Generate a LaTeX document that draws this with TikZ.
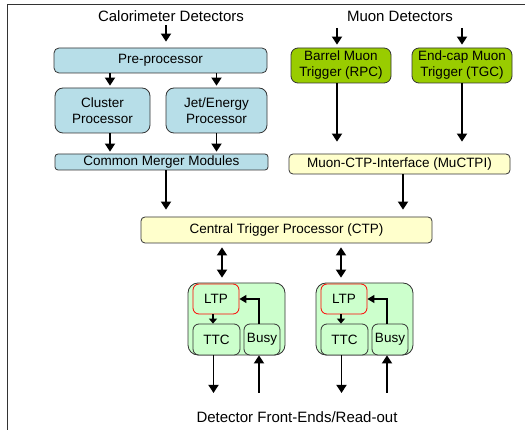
\documentclass[tikz,border=0pt]{standalone}
\usepackage{fontspec}
\setmainfont{Liberation Sans}
\usepackage{xcolor}
\usepackage{tikz}
\usetikzlibrary{arrows.meta, calc}
\definecolor{calofill}{HTML}{B7DEE8}
\definecolor{muonfill}{HTML}{99CC00}
\definecolor{ctpfill}{HTML}{FFFFCC}
\definecolor{ltpfill}{HTML}{CCFFCC}
\definecolor{ltpred}{HTML}{FF0000}
\definecolor{edgegray}{HTML}{333333}

\tikzset{
    headfont/.style={font=\fontsize{15}{18}\selectfont},
    trigbox/.style={draw=edgegray, line width=0.8pt, inner sep=0pt, align=center, font=\fontsize{13.5}{16}\selectfont},
    calobox/.style={trigbox, fill=calofill},
    muonbox/.style={trigbox, fill=muonfill, rounded corners=7pt},
    ctpbox/.style={trigbox, fill=ctpfill, rounded corners=4pt},
    groupbox/.style={trigbox, fill=ltpfill, rounded corners=10pt},
    ltpbox/.style={trigbox, fill=ltpfill, draw=ltpred, rounded corners=6pt},
    subbox/.style={trigbox, fill=ltpfill, rounded corners=6pt},
    flow/.style={line width=1.8pt, -{Triangle[length=8pt,width=10pt]}},
    twoway/.style={line width=1.8pt, {Triangle[length=8pt,width=10pt]}-{Triangle[length=8pt,width=10pt]}},
    link/.style={line width=1.2pt, -{Triangle[length=7pt,width=8pt]}},
}

\begin{document}
\begin{tikzpicture}[x=1pt, y=-1pt]
    \useasboundingbox (0,0) rectangle (525,430);

    % Frame
    \draw[edgegray, line width=0.8pt] (525,4) -- (7,4) -- (7,430);

    % Labels
    \node[headfont] (calo) at (171,16) {Calorimeter Detectors};
    \node[headfont] (muon) at (400,16) {Muon Detectors};
    \node[headfont] (fe) at (297,417) {Detector Front-Ends/Read-out};

    % Calorimeter trigger
    \node[calobox, rounded corners=5pt, minimum width=213pt, minimum height=25pt] (pre) at (160.5,60.5) {Pre-processor};
    \node[calobox, rounded corners=8pt, minimum width=95pt, minimum height=45pt] (cluster) at (102.5,110.5) {Cluster\\Processor};
    \node[calobox, rounded corners=8pt, minimum width=101pt, minimum height=45pt] (jet) at (216.5,110.5) {Jet/Energy\\Processor};
    \node[calobox, rounded corners=3pt, minimum width=213pt, minimum height=16pt] (cmm) at (161.5,162) {Common Merger Modules};

    % Muon trigger
    \node[muonbox, minimum width=100pt, minimum height=35pt] (barrel) at (341,65.5) {Barrel Muon\\Trigger (RPC)};
    \node[muonbox, minimum width=100pt, minimum height=35pt] (endcap) at (462,65.5) {End-cap Muon\\Trigger (TGC)};
    \node[ctpbox, minimum width=221pt, minimum height=20pt] (muctpi) at (399.5,164) {Muon-CTP-Interface (MuCTPI)};

    % CTP
    \node[ctpbox, minimum width=291pt, minimum height=26pt] (ctp) at (286.5,230) {Central Trigger Processor (CTP)};

    % Arrows into the CTP
    \draw[flow, shorten >=6pt] ($(calo.south)+(-5,0)$) -- ($(calo.south |- pre.north)+(-5,0)$);
    \draw[flow, shorten >=2pt] ($(pre.south -| cluster.north)+(7.5,0)$) -- ($(cluster.north)+(7.5,0)$);
    \draw[flow, shorten >=2pt] (pre.south -| jet.north) -- (jet.north);
    \draw[flow, shorten >=2pt] ($(cluster.south)+(7.5,0)$) -- ($(cluster.south |- cmm.north)+(7.5,0)$);
    \draw[flow, shorten >=2pt] (jet.south) -- (jet.south |- cmm.north);
    \draw[flow, shorten >=7pt] ($(cmm.south)+(4.5,0)$) -- ($(cmm.south |- ctp.north)+(4.5,0)$);
    \draw[flow, shorten <=3pt, shorten >=3pt] ($(muon.south -| barrel.north)+(-4,0)$) -- ($(barrel.north)+(-4,0)$);
    \draw[flow, shorten <=3pt, shorten >=3pt] (muon.south -| endcap.north) -- (endcap.north);
    \draw[flow, shorten >=12pt] ($(barrel.south)+(-4,0)$) -- ($(barrel.south |- muctpi.north)+(-4,0)$);
    \draw[flow, shorten >=12pt] (endcap.south) -- (endcap.south |- muctpi.north);
    \draw[flow, shorten >=7pt] ($(muctpi.south)+(3.5,0)$) -- ($(muctpi.south |- ctp.north)+(3.5,0)$);

    % LTP groups
    \foreach \g/\dx/\ax in {l/0/6, r/128/-3}{
        \node[groupbox, minimum width=97pt, minimum height=72pt] (grp\g) at (236.5+\dx,319) {};
        \node[ltpbox, minimum width=46pt, minimum height=30pt] (ltp\g) at (216+\dx,299) {LTP};
        \node[subbox, minimum width=47pt, minimum height=31pt] (ttc\g) at (216.5+\dx,339.5) {TTC};
        \node[subbox, minimum width=36pt, minimum height=31pt] (busy\g) at (262+\dx,339.5) {Busy};

        \draw[twoway, shorten <=4pt, shorten >=6pt] ($(ctp.south -| ltp\g.north)+(\ax,0)$) -- ($(ltp\g.north)+(\ax,0)$);
        \draw[line width=1.2pt, -{Triangle[length=5pt,width=8pt]}] ($(ltp\g.south)+(-3,0)$) -- ($(ltp\g.south |- ttc\g.north)+(-3,0)$);
        \draw[link] ($(busy\g.north)+(-3,0)$) |- (ltp\g.east);
        \draw[flow, shorten >=15pt] ($(ttc\g.south)+(-3,0)$) -- ($(ttc\g.south |- fe.north)+(-3,0)$);
        \draw[flow, shorten <=15pt] ($(busy\g.south |- fe.north)+(-3,0)$) -- ($(busy\g.south)+(-3,0)$);
    }
\end{tikzpicture}
\end{document}
